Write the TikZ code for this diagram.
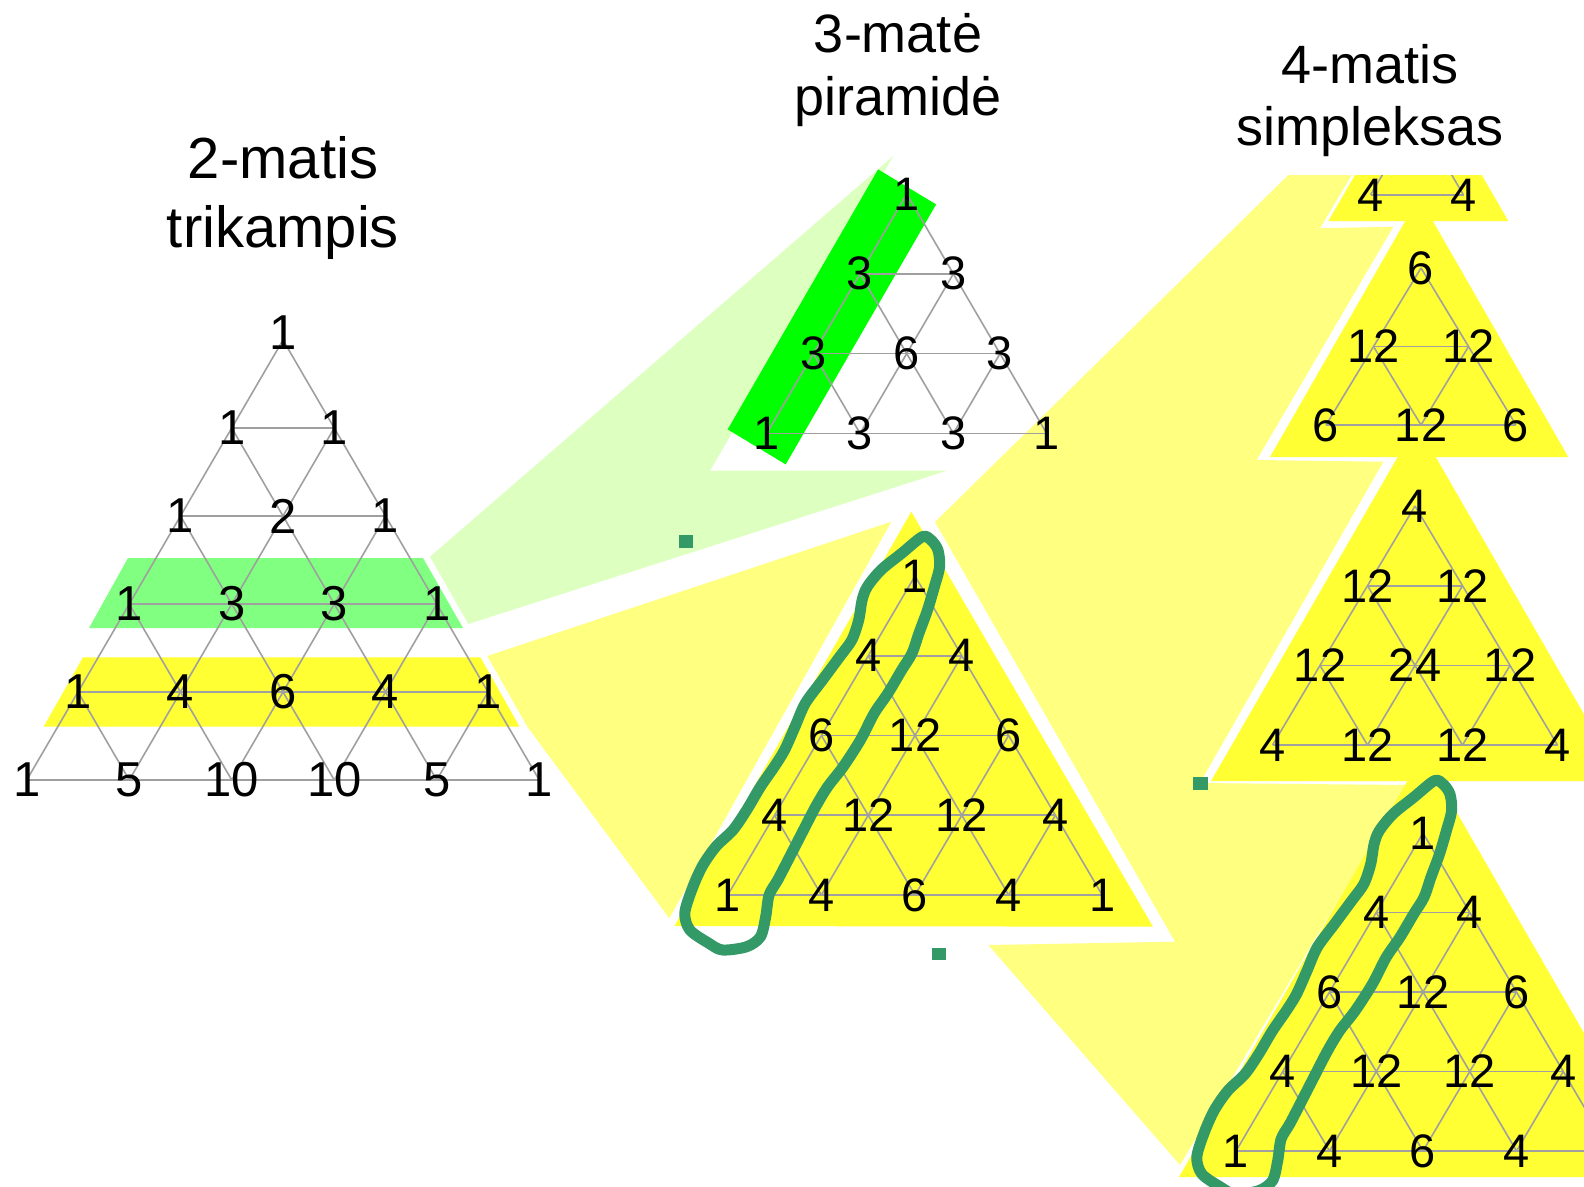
\documentclass[tikz,border=0pt]{standalone}
\usepackage{fontspec}
\setmainfont{Liberation Sans}
\definecolor{spotgreen}{HTML}{DDFFC0}
\definecolor{bandgreen}{HTML}{80FF80}
\definecolor{brightgreen}{HTML}{00FF00}
\definecolor{spotyellow}{HTML}{FFFF80}
\definecolor{bandyellow}{HTML}{FFFF33}
\definecolor{latgray}{HTML}{A0A0A0}
\definecolor{loopgreen}{HTML}{339966}
\tikzset{
  latline/.style={draw=latgray, line width=1.6pt},
  num/.style={font=\fontsize{47}{47}\selectfont, inner sep=0pt, text=black},
  numbig/.style={font=\fontsize{49}{49}\selectfont, inner sep=0pt, text=black},
  titletext/.style={align=center, inner sep=0pt, anchor=north},
  loopline/.style={draw=loopgreen, line width=11pt, line join=round},
  marker/.style={fill=loopgreen},
}
% lattice: prefix, cx, y0, spacing, rowheight, rows
\newcommand\mylattice[6]{%
  \pgfmathtruncatemacro\lastrow{#6-1}%
  \pgfmathtruncatemacro\penult{#6-2}%
  \foreach \i in {0,...,\lastrow}{%
    \foreach \j in {0,...,\i}{%
      \coordinate (#1-\i-\j) at ({#2+(\j-\i/2)*#4},{#3+\i*#5});%
    }%
  }%
  \foreach \i in {1,...,\lastrow}{\draw[latline] (#1-\i-0) -- (#1-\i-\i);}%
  \foreach \i in {0,...,\penult}{%
    \pgfmathtruncatemacro\kk{\lastrow-\i}%
    \draw[latline] (#1-\i-0) -- (#1-\lastrow-\kk);%
    \draw[latline] (#1-\i-\i) -- (#1-\lastrow-\i);%
  }%
}
% labels: prefix, style, rows, first row index
\newcommand\mylabels[4]{%
  \foreach \rowlist [count=\i from #4] in {#3}{%
    \foreach \val [count=\j from 0] in \rowlist {%
      \node[#2] (#1n-\i-\j) at (#1-\i-\j) {\val};%
    }%
  }%
}
\begin{document}
\begin{tikzpicture}[x=1pt,y=-1pt]
\useasboundingbox (0,0) rectangle (1584,1186);
\fill[white] (0,0) rectangle (1584,1186);
\clip (0,0) rectangle (1584,1186);

% spotlights
\path[fill=spotgreen] (430,556.7) -- (893.3,156) -- (710,470.7) -- (946.7,470.7) -- (468.3,624) -- cycle;
\path[fill=spotyellow] (487.3,656) -- (527.5,727) -- (669.3,918.3) -- (891.4,521.7) -- cycle;
\path[fill=spotyellow] (935,522) -- (1288.3,175) -- (1351.7,175) -- (1320,228.3) -- (1393.3,226.7)
  -- (1256.7,460) -- (1383.3,461.7) -- (1200,783) -- (1407,785) -- (1180,1165) -- (988.3,945)
  -- (1175,941.7) -- cycle;

% bands of the 2D triangle
\path[fill=bandgreen] (128,558) -- (423,558) -- (463,628) -- (89,628) -- cycle;
\path[fill=bandyellow] (83,657.3) -- (480.4,657.3) -- (519.6,726.7) -- (43.6,726.7) -- cycle;

% green bar on the pyramid
\path[fill=brightgreen] (878.1,169.4) -- (936.1,204.4) -- (785.7,464.4) -- (727.7,429.4) -- cycle;

% yellow triangles
\path[fill=bandyellow] (911.3,511.7) -- (1153,926.7) -- (674.4,926) -- cycle;
\path[fill=bandyellow] (1355,175) -- (1481.7,175) -- (1508.3,221) -- (1328.3,221) -- cycle;
\path[fill=bandyellow] (1419,197) -- (1568.3,457) -- (1270,457) -- cycle;
\path[fill=bandyellow] (1416.7,424) -- (1622.5,781) -- (1211,781) -- cycle;
\path[fill=bandyellow] (1423,754) -- (1667,1177) -- (1179,1177) -- cycle;

% lattices
\mylattice{L}{283}{340}{102.5}{88}{6}
\mylattice{P}{906.7}{194}{93.3}{79.8}{4}
\mylattice{M}{915}{576}{93.6}{79.75}{5}
\begin{scope}
  \clip (1200,175) rectangle (1584,300);
  \mylattice{A}{1417}{116}{93}{79}{2}
\end{scope}
\mylattice{B}{1421}{268}{95}{78.5}{3}
\mylattice{C}{1415}{506}{95}{79.7}{4}
\mylattice{D}{1423}{833}{93.5}{79.5}{5}

% numbers
\node[numbig] (Ln-0-0) at ([yshift=7pt]L-0-0) {1};
\mylabels{L}{numbig}{{1,1},{1,2,1},{1,3,3,1},{1,4,6,4,1},{1,5,10,10,5,1}}{1}
\mylabels{P}{num}{{1},{3,3},{3,6,3},{1,3,3,1}}{0}
\mylabels{M}{num}{{1},{4,4},{6,12,6},{4,12,12,4},{1,4,6,4,1}}{0}
\mylabels{A}{num}{{4,4}}{1}
\mylabels{B}{num}{{6},{12,12},{6,12,6}}{0}
\mylabels{C}{num}{{4},{12,12},{12,24,12},{4,12,12,4}}{0}
\mylabels{D}{num}{{1},{4,4},{6,12,6},{4,12,12,4},{1,4,6,4}}{0}

% hand-drawn loops
\def\looppts{(922.4,536.7) (901.7,553.3) (881,570) (867.3,586.7) (862.1,600) (858.7,620)
 (851.8,640) (839.7,656.7) (822.5,680) (805.3,703.3) (795,726.7) (784.6,750) (774.3,766.7)
 (760.5,786.7) (746.7,810) (733,830) (715.8,846.7) (702,866.7) (691.7,890) (684.8,913.3)
 (689.9,930) (708.9,943.3) (722.6,950) (746.7,946.7) (760.5,936.7) (765.7,916.7) (769.1,895)
 (777.7,880) (788.1,860) (801.8,833.3) (815.6,806.7) (827.7,786.7) (843.2,766.7) (860.4,740)
 (874.2,713.3) (887.9,693.3) (901.7,670) (912,653.3) (918.9,633.3) (927.5,610) (934.4,586.7)
 (939.6,566.7) (937.9,550) (931,540)}
\draw[loopline] plot[smooth cycle, tension=0.5] coordinates {\looppts};
\begin{scope}[shift={(512,244)}]
  \draw[loopline] plot[smooth cycle, tension=0.5] coordinates {\looppts};
\end{scope}

% small markers
\path[marker] (679,535) rectangle (693,548);
\path[marker] (932,948) rectangle (946,960);
\path[marker] (1193,777) rectangle (1208,790);

% titles
\node[titletext, font=\fontsize{58}{69}\selectfont] (title2) at (283,136) {2-matis\\trikampis};
\node[titletext, font=\fontsize{54}{63}\selectfont] (title3) at (898,13) {3-matė\\piramidė};
\node[titletext, font=\fontsize{54}{62}\selectfont] (title4) at (1370,44) {4-matis\\simpleksas};
\end{tikzpicture}
\end{document}
